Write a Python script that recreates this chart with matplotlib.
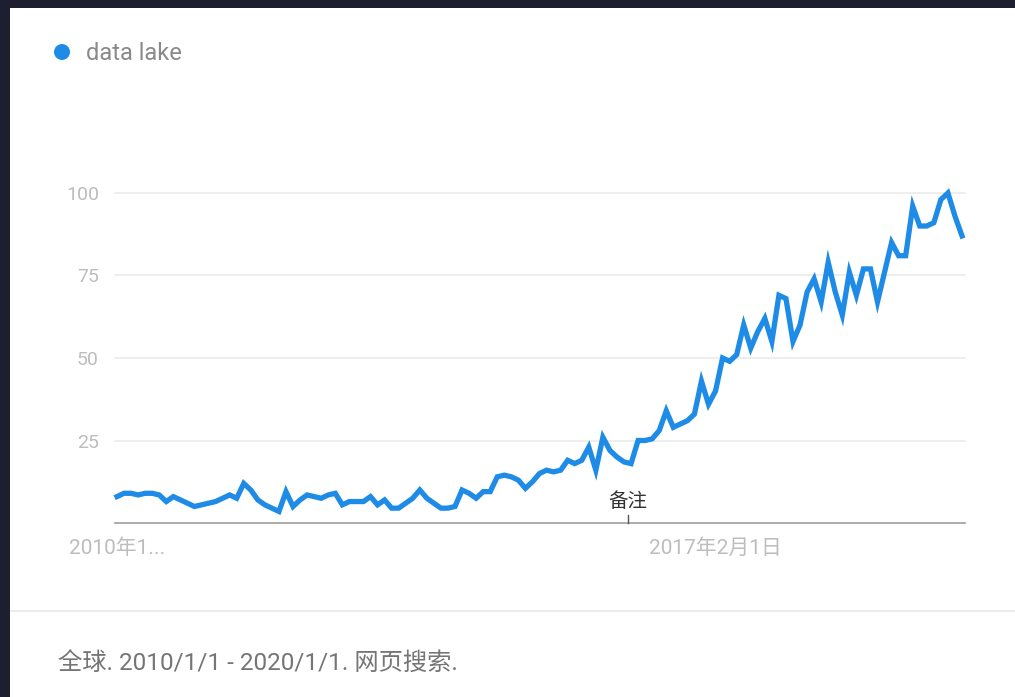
import matplotlib.pyplot as plt
from matplotlib.patches import Rectangle, Circle
from matplotlib.lines import Line2D

# monthly search interest, 2010-01 .. 2020-01 (121 months)
months = list(range(121))
interest = [
    8, 9, 9, 8.5, 9, 9, 8.5, 6.5, 8, 7,
    6, 5, 5.5, 6, 6.5, 7.5, 8.5, 7.5, 12, 10,
    7, 5.5, 4.5, 3.5, 9.5, 5, 7, 8.5, 8, 7.5,
    8.5, 9, 5.5, 6.5, 6.5, 6.5, 8, 5.5, 7, 4.5,
    4.5, 6, 7.5, 10, 7.5, 6, 4.5, 4.5, 5, 10,
    9, 7.5, 9.5, 9.5, 14, 14.5, 14, 13, 10.5, 12.5,
    15, 16, 15.5, 16, 19, 18, 19, 23, 16, 26,
    22, 20, 18.5, 18, 25, 25, 25.5, 28, 34, 29,
    30, 31, 33, 43, 36, 40, 50, 49, 51, 60,
    53, 58, 62, 55, 69, 68, 55, 60, 70, 74,
    67, 79, 70, 63, 76, 69, 77, 77, 67, 76,
    85, 81, 81, 96, 90, 90, 91, 98, 100, 93,
    87,
]
y_ticks = [25, 50, 75, 100]
x_tick_pos = [0, 85]
x_tick_labels = ['2010年1...', '2017年2月1日']
note_month = 72.5
note_text = '备注'
series_name = 'data lake'
footer = '全球. 2010/1/1 - 2020/1/1. 网页搜索.'

fonts = ['Roboto', 'Noto Sans CJK SC', 'DejaVu Sans']
blue = '#1e8ce6'

fig = plt.figure(figsize=(10.15, 6.97), dpi=100)
fig.patch.set_facecolor('#1d1e2f')
fig.patches.append(Rectangle((10 / 1015, 0), 1, 1 - 8 / 697, transform=fig.transFigure,
                             facecolor='white', edgecolor='none', zorder=-5))
# separator above the footer
fig.add_artist(Line2D([11 / 1015, 1], [1 - 611 / 697] * 2, transform=fig.transFigure,
                      color='#ececec', lw=1.5))

ax = fig.add_axes([117 / 1015, 1 - 523 / 697, 845 / 1015, 330 / 697])
ax.set_facecolor('none')
ax.plot(months, interest, color=blue, lw=3.8, solid_joinstyle='miter', clip_on=False, zorder=3)
ax.set_xlim(0, 120)
ax.set_ylim(0, 100)
for v in y_ticks:
    ax.plot([-0.3, 120.4], [v, v], color='#ebebeb', lw=1.2, clip_on=False, zorder=1)
ax.plot([-0.3, 120.4], [0, 0], color='#9e9e9e', lw=1.2, clip_on=False, zorder=2)
for s in ax.spines.values():
    s.set_visible(False)
ax.set_yticks(y_ticks)
ax.set_yticklabels([str(v) for v in y_ticks], family=fonts, fontsize=14, color='#bdbdbd')
ax.set_xticks(x_tick_pos)
ax.set_xticklabels(x_tick_labels, family=fonts, fontsize=15, color='#bdbdbd')
ax.tick_params(length=0, axis='y', pad=13)
ax.tick_params(length=0, axis='x', pad=11)

# note marker
ax.plot([note_month, note_month], [0, 2.5], color='#555555', lw=1, clip_on=False)
ax.text(note_month, 3.6, note_text, family=fonts, fontsize=14, color='#333333',
        ha='center', va='bottom')

# legend
dot = Circle((0.62, 6.97 - 0.52), 0.08, transform=fig.dpi_scale_trans,
             facecolor=blue, edgecolor='none')
fig.patches.append(dot)
fig.text(86 / 1015, 1 - 53 / 697, series_name, family=fonts, fontsize=17, color='#8a8a8a',
         ha='left', va='center')

fig.text(58 / 1015, 1 - 664 / 697, footer, family=fonts, fontsize=17.5, color='#757575',
         ha='left', va='center')

fig.savefig('out.png', dpi=100, facecolor=fig.get_facecolor())
